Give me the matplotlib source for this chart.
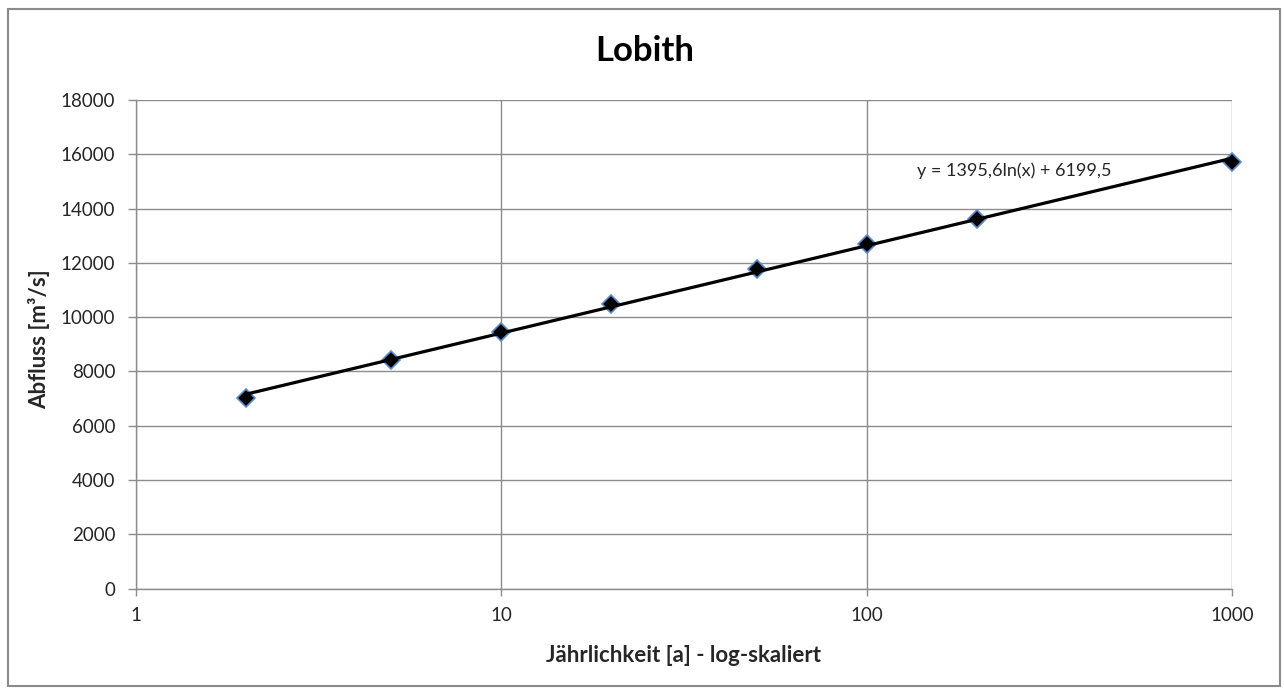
import numpy as np
import matplotlib
matplotlib.use("Agg")
import matplotlib.pyplot as plt
from matplotlib.patches import Rectangle
from matplotlib.ticker import FixedLocator, NullLocator, FixedFormatter

# Jaehrlichkeit [a] und Abfluss [m3/s]
jaehrlichkeit = [2, 5, 10, 20, 50, 100, 200, 1000]
abfluss = [7010, 8430, 9440, 10490, 11760, 12680, 13610, 15720]

x_ticks = [1, 10, 100, 1000]
x_tick_labels = ["1", "10", "100", "1000"]
y_ticks = list(range(0, 18001, 2000))

trend_text = "y = 1395,6ln(x) + 6199,5"

plt.rcParams['font.family'] = ['Lato', 'DejaVu Sans']

grid_col = '#8c8c8c'
text_col = '#262626'

fig = plt.figure(figsize=(12.84, 6.89), dpi=100)
fig.patches.append(Rectangle((8 / 1284, 3 / 689), 1272 / 1284, 677 / 689,
                             transform=fig.transFigure, fill=False,
                             edgecolor='#8a8a8a', linewidth=1.5))

ax = fig.add_axes([136 / 1284, 100.5 / 689, 1096 / 1284, 488.5 / 689])

# logarithmische Trendlinie aus den Punkten
k, d = np.polyfit(np.log(jaehrlichkeit), abfluss, 1)
xt = np.exp(np.linspace(np.log(min(jaehrlichkeit)), np.log(max(jaehrlichkeit)), 50))

ax.plot(jaehrlichkeit, abfluss, linestyle='none', marker='D', markersize=9,
        markerfacecolor='black', markeredgecolor='#5b8ccc', markeredgewidth=1.2,
        zorder=3, clip_on=False)
ax.plot(xt, k * np.log(xt) + d, color='black', linewidth=2.3, zorder=4, clip_on=False)

ax.set_xscale('log')
ax.set_xlim(1, 1000)
ax.set_ylim(0, 18000)
ax.xaxis.set_major_locator(FixedLocator(x_ticks))
ax.xaxis.set_major_formatter(FixedFormatter(x_tick_labels))
ax.xaxis.set_minor_locator(NullLocator())
ax.set_yticks(y_ticks)

ax.grid(True, color=grid_col, linewidth=1.0)
ax.set_axisbelow(True)
for s in ['top', 'right']:
    ax.spines[s].set_visible(False)
for s in ['left', 'bottom']:
    ax.spines[s].set_color(grid_col)
    ax.spines[s].set_linewidth(1.0)

ax.tick_params(axis='y', length=6, width=1, color=grid_col, pad=9,
               labelsize=13.5, labelcolor=text_col)
ax.tick_params(axis='x', length=5, width=1, color=grid_col, pad=8,
               labelsize=13.5, labelcolor=text_col)

ax.text(137, 15400, trend_text, fontsize=13, color=text_col, va='center', ha='left')

fig.text(645 / 1284, 1 - 51 / 689, "Lobith", fontsize=25, fontweight='bold',
         ha='center', va='center', color='black')
fig.text(683 / 1284, 1 - 655 / 689, "Jährlichkeit [a] - log-skaliert",
         fontsize=16, fontweight='bold', ha='center', va='center', color=text_col)
fig.text(39 / 1284, 1 - 339 / 689, "Abfluss [m³/s]", fontsize=16, fontweight='bold',
         ha='center', va='center', rotation=90, color=text_col)

plt.savefig('out.png', dpi=100)
